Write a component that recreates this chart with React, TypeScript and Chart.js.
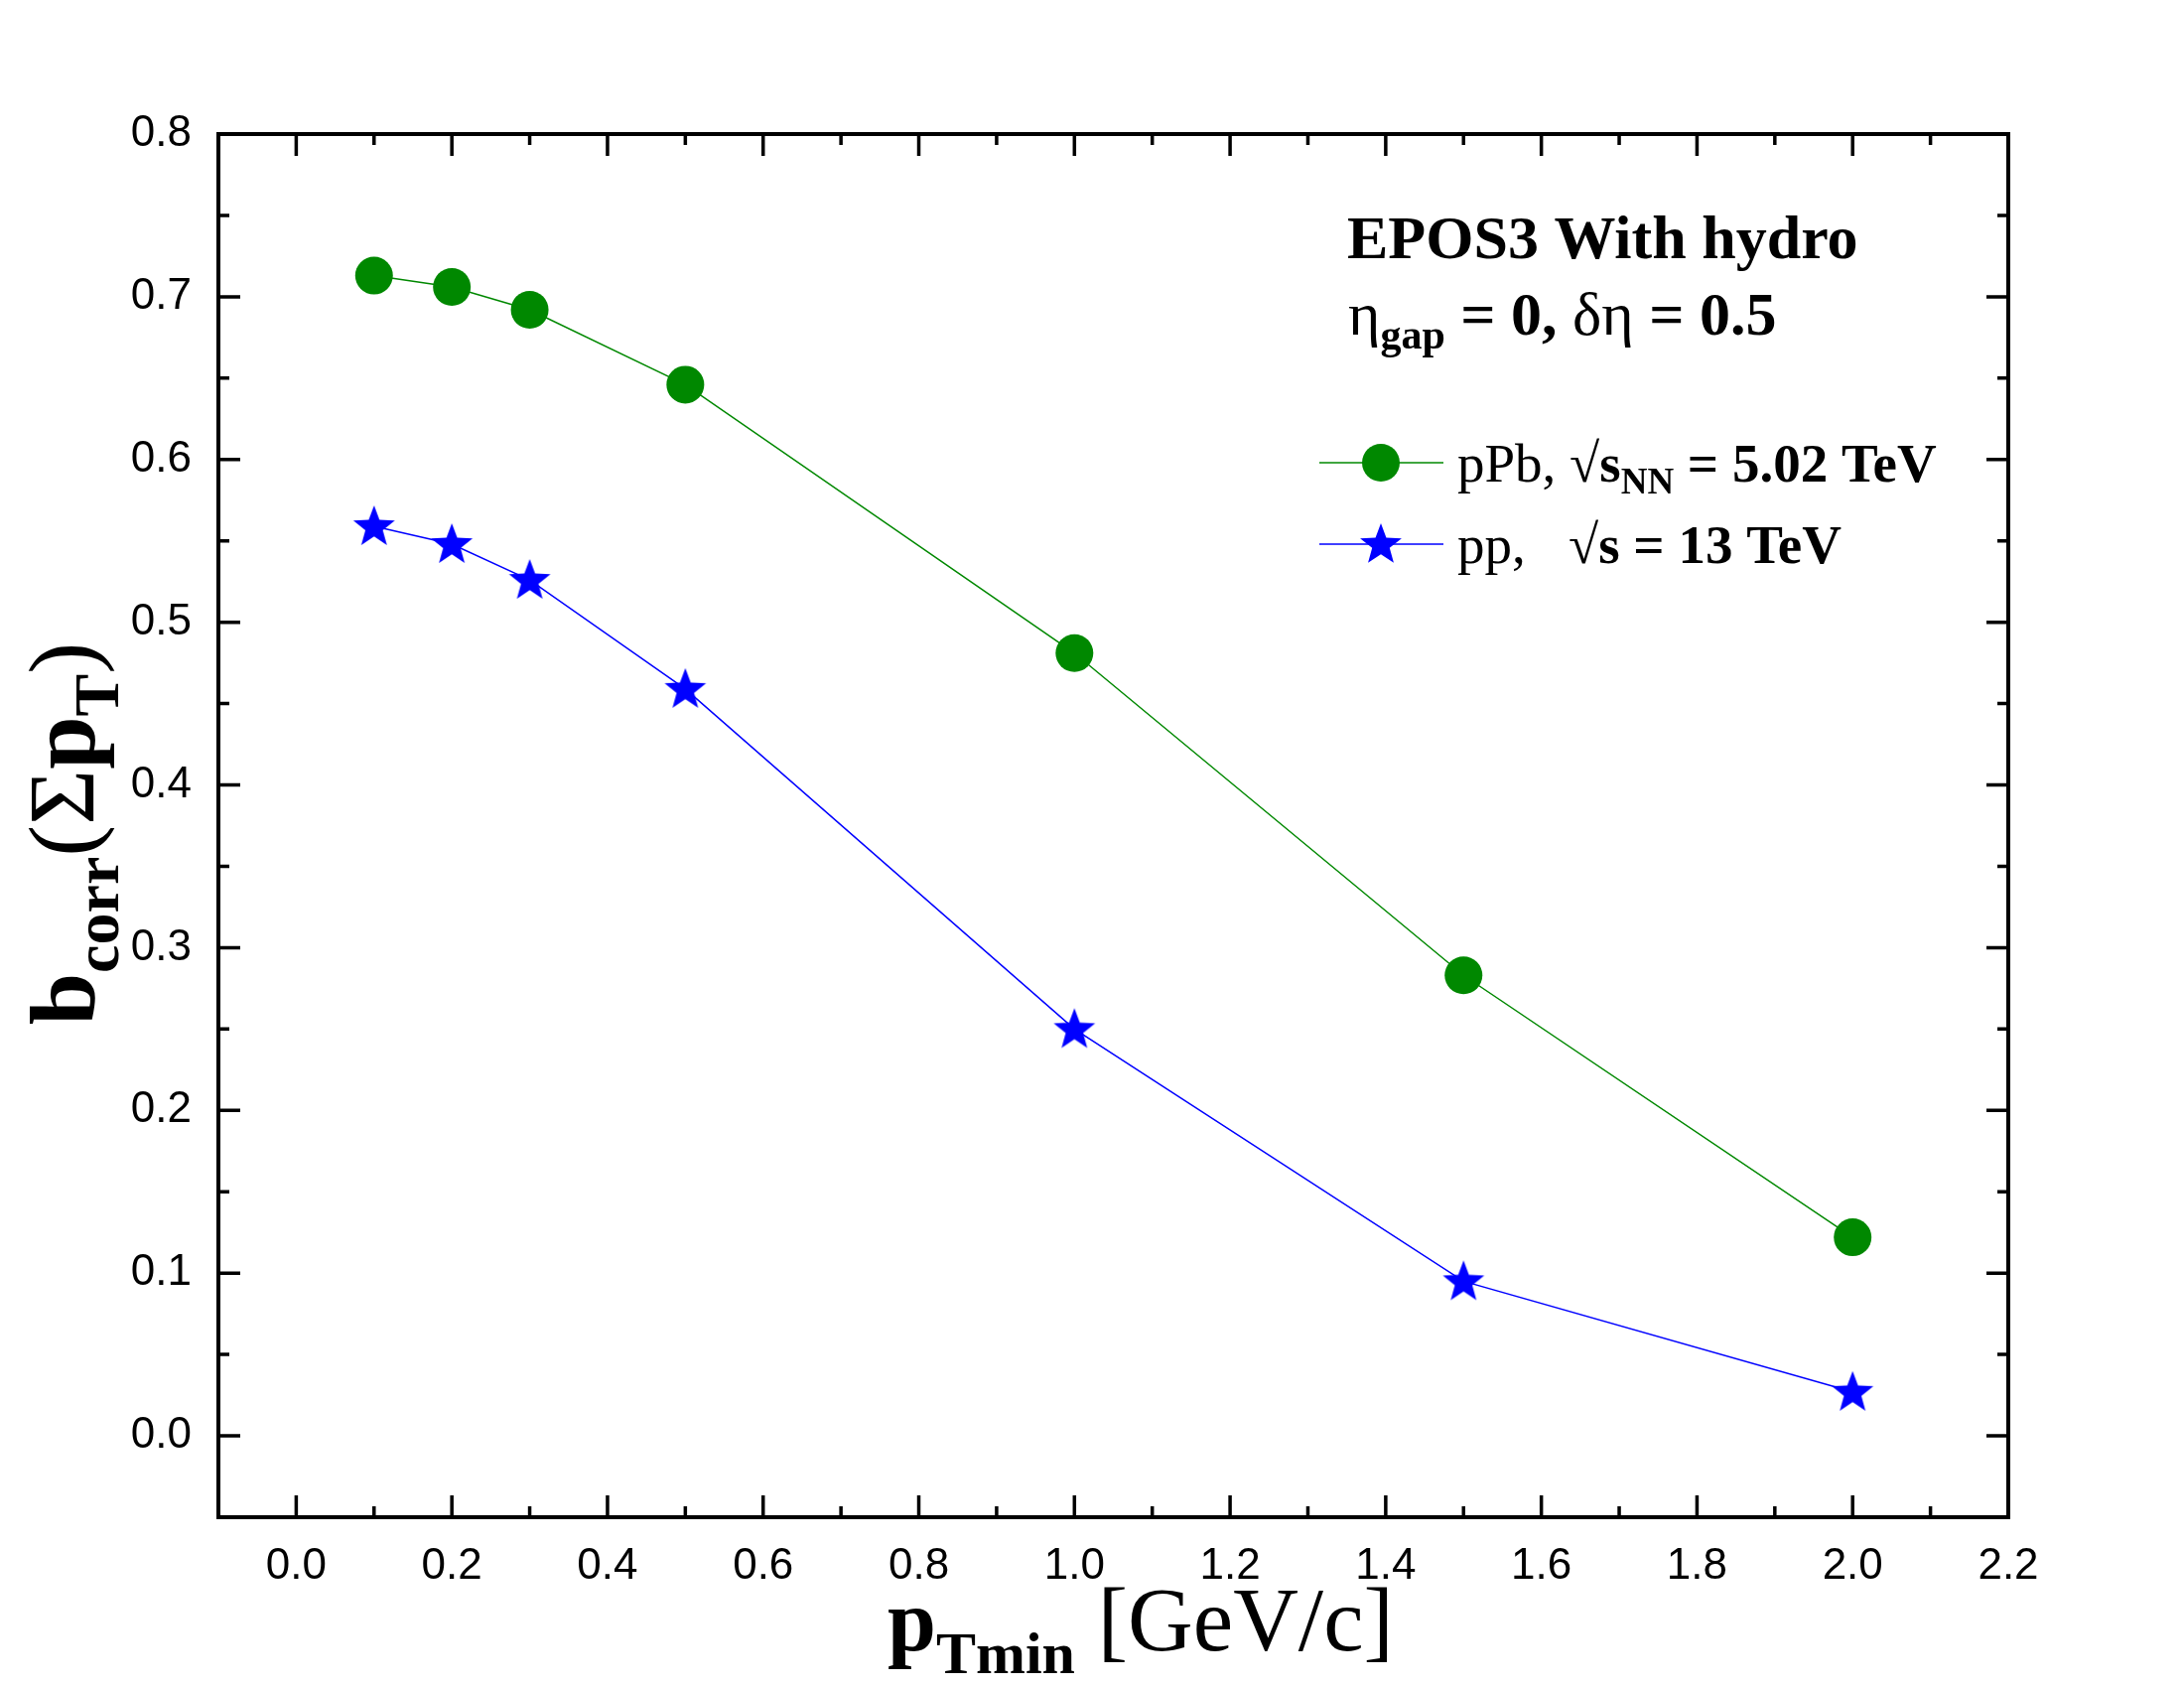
import { useEffect, useRef } from 'react';
import { Chart, registerables } from 'chart.js';

Chart.register(...registerables);

// data
const ptMin = [0.1, 0.2, 0.3, 0.5, 1.0, 1.5, 2.0];
const pPbValues = [0.713, 0.706, 0.692, 0.646, 0.481, 0.283, 0.122];
const ppValues = [0.559, 0.548, 0.526, 0.459, 0.25, 0.095, 0.027];

const xTickValues = [0, 0.2, 0.4, 0.6, 0.8, 1.0, 1.2, 1.4, 1.6, 1.8, 2.0, 2.2];
const xTickLabels = ['0.0', '0.2', '0.4', '0.6', '0.8', '1.0', '1.2', '1.4', '1.6', '1.8', '2.0', '2.2'];
const yTickValues = [0, 0.1, 0.2, 0.3, 0.4, 0.5, 0.6, 0.7, 0.8];
const yTickLabels = ['0.0', '0.1', '0.2', '0.3', '0.4', '0.5', '0.6', '0.7', '0.8'];

const GREEN = '#008800';
const BLUE = '#0000ff';
const SERIF = "'Liberation Serif', 'Times New Roman', serif";
const SANS = "'Liberation Sans', Arial, sans-serif";
const bold = (px: number) => `bold ${px}px ${SERIF}`;
const reg = (px: number) => `${px}px ${SERIF}`;

type Run = { t: string; f: string; dy?: number };

function runsWidth(ctx: CanvasRenderingContext2D, runs: Run[]) {
	let w = 0;
	for (const r of runs) {
		ctx.font = r.f;
		w += ctx.measureText(r.t).width;
	}
	return w;
}

function drawRuns(ctx: CanvasRenderingContext2D, x: number, y: number, runs: Run[]) {
	let cx = x;
	for (const r of runs) {
		ctx.font = r.f;
		ctx.fillText(r.t, cx, y + (r.dy || 0));
		cx += ctx.measureText(r.t).width;
	}
	return cx;
}

function starPath(ctx: CanvasRenderingContext2D, cx: number, cy: number, R: number) {
	const r = R * 0.42;
	ctx.beginPath();
	for (let i = 0; i < 10; i++) {
		const a = -Math.PI / 2 + (i * Math.PI) / 5;
		const rad = i % 2 === 0 ? R : r;
		const px = cx + rad * Math.cos(a);
		const py = cy + rad * Math.sin(a);
		if (i === 0) ctx.moveTo(px, py);
		else ctx.lineTo(px, py);
	}
	ctx.closePath();
}

function makeStar(R: number, color: string) {
	const c = document.createElement('canvas');
	const s = Math.ceil(R * 2 + 4);
	c.width = s;
	c.height = s;
	const ctx = c.getContext('2d')!;
	ctx.fillStyle = color;
	starPath(ctx, s / 2, s / 2 + R * 0.05, R);
	ctx.fill();
	return c;
}

const mids = (a: number[]) => a.slice(0, -1).map((v, i) => (v + a[i + 1]) / 2);

const decorations = {
	id: 'decorations',
	afterDraw(chart: any) {
		const { ctx, chartArea, scales } = chart;
		const { left, right, top, bottom } = chartArea;
		const x = scales.x;
		const y = scales.y;
		ctx.save();

		// inward ticks on all four sides
		ctx.strokeStyle = '#000';
		ctx.lineWidth = 3.5;
		ctx.beginPath();
		const tickX = (v: number, len: number) => {
			const p = x.getPixelForValue(v);
			ctx.moveTo(p, bottom);
			ctx.lineTo(p, bottom - len);
			ctx.moveTo(p, top);
			ctx.lineTo(p, top + len);
		};
		const tickY = (v: number, len: number) => {
			const p = y.getPixelForValue(v);
			ctx.moveTo(left, p);
			ctx.lineTo(left + len, p);
			ctx.moveTo(right, p);
			ctx.lineTo(right - len, p);
		};
		xTickValues.forEach((v) => tickX(v, 22));
		mids(xTickValues).forEach((v) => tickX(v, 11));
		yTickValues.forEach((v) => tickY(v, 22));
		mids(yTickValues).forEach((v) => tickY(v, 11));
		ctx.stroke();

		// frame
		ctx.lineWidth = 4;
		ctx.strokeRect(left, top, right - left, bottom - top);

		ctx.fillStyle = '#000';
		ctx.textBaseline = 'alphabetic';
		ctx.textAlign = 'left';

		// x title
		drawRuns(ctx, 894, 1662, [
			{ t: 'p', f: bold(88) },
			{ t: 'Tmin', f: bold(60), dy: 23 },
			{ t: ' [GeV/c]', f: reg(91) },
		]);

		// y title
		const yRuns: Run[] = [
			{ t: 'b', f: bold(94) },
			{ t: 'corr', f: bold(64), dy: 24 },
			{ t: '(', f: reg(96) },
			{ t: 'Σ', f: reg(96) },
			{ t: 'p', f: bold(96) },
			{ t: 'T', f: bold(64), dy: 24 },
			{ t: ')', f: reg(96) },
		];
		const yw = runsWidth(ctx, yRuns);
		ctx.save();
		ctx.translate(95, (top + bottom) / 2 + 8 + yw / 2);
		ctx.rotate(-Math.PI / 2);
		drawRuns(ctx, 0, 0, yRuns);
		ctx.restore();

		// annotation
		drawRuns(ctx, 1357, 260, [{ t: 'EPOS3 With hydro', f: bold(62) }]);
		drawRuns(ctx, 1358, 337, [
			{ t: 'η', f: reg(62) },
			{ t: 'gap', f: bold(42), dy: 14 },
			{ t: ' = 0, ', f: bold(62) },
			{ t: 'δη', f: reg(62) },
			{ t: ' = 0.5', f: bold(62) },
		]);

		// legend
		ctx.lineWidth = 1.5;
		ctx.strokeStyle = GREEN;
		ctx.beginPath();
		ctx.moveTo(1329, 466);
		ctx.lineTo(1454, 466);
		ctx.stroke();
		ctx.fillStyle = GREEN;
		ctx.beginPath();
		ctx.arc(1391, 466, 19, 0, Math.PI * 2);
		ctx.fill();

		ctx.strokeStyle = BLUE;
		ctx.beginPath();
		ctx.moveTo(1329, 548);
		ctx.lineTo(1454, 548);
		ctx.stroke();
		ctx.fillStyle = BLUE;
		starPath(ctx, 1391, 549, 22);
		ctx.fill();

		ctx.fillStyle = '#000';
		drawRuns(ctx, 1468, 485, [
			{ t: 'pPb, ', f: reg(55) },
			{ t: '√', f: reg(55) },
			{ t: 's', f: bold(55) },
			{ t: 'NN', f: bold(37), dy: 12 },
			{ t: ' = 5.02 TeV', f: bold(55) },
		]);
		drawRuns(ctx, 1468, 567, [{ t: 'pp,', f: reg(55) }]);
		drawRuns(ctx, 1580, 567, [
			{ t: '√', f: reg(55) },
			{ t: 's = 13 TeV', f: bold(55) },
		]);

		ctx.restore();
	},
};

export default function App() {
	const chartRef = useRef<HTMLCanvasElement>(null);

	useEffect(() => {
		if (!chartRef.current) return;
		const star = makeStar(22, BLUE);
		const chart = new Chart(chartRef.current, {
			type: 'scatter',
			data: {
				datasets: [
					{
						label: 'pPb',
						data: ptMin.map((v, i) => ({ x: v, y: pPbValues[i] })),
						showLine: true,
						borderColor: GREEN,
						backgroundColor: GREEN,
						borderWidth: 1.5,
						pointStyle: 'circle',
						pointRadius: 19,
						pointBorderWidth: 0,
						tension: 0,
					},
					{
						label: 'pp',
						data: ptMin.map((v, i) => ({ x: v, y: ppValues[i] })),
						showLine: true,
						borderColor: BLUE,
						backgroundColor: BLUE,
						borderWidth: 1.5,
						pointStyle: star,
						pointRadius: 22,
						tension: 0,
					},
				],
			},
			options: {
				animation: false,
				responsive: false,
				devicePixelRatio: 1,
				layout: { padding: { top: 135, right: 177, left: 0, bottom: 0 } },
				plugins: { legend: { display: false }, tooltip: { enabled: false } },
				scales: {
					x: {
						type: 'linear',
						min: -0.1,
						max: 2.2,
						grid: { display: false, drawTicks: false },
						border: { display: false },
						afterFit: (s: any) => {
							s.height = 172;
						},
						afterBuildTicks: (s: any) => {
							s.ticks = xTickValues.map((v) => ({ value: v }));
						},
						ticks: {
							autoSkip: false,
							maxRotation: 0,
							padding: 23,
							color: '#000',
							font: { family: SANS, size: 44 },
							callback: (_v: any, i: number) => xTickLabels[i],
						},
					},
					y: {
						type: 'linear',
						min: -0.05,
						max: 0.8,
						grid: { display: false, drawTicks: false },
						border: { display: false },
						afterFit: (s: any) => {
							s.width = 220;
						},
						afterBuildTicks: (s: any) => {
							s.ticks = yTickValues.map((v) => ({ value: v }));
						},
						ticks: {
							autoSkip: false,
							padding: 27,
							color: '#000',
							font: { family: SANS, size: 44 },
							callback: (_v: any, i: number) => yTickLabels[i],
						},
					},
				},
			},
			plugins: [decorations],
		});
		return () => chart.destroy();
	}, []);

	return (
		<div style={{ position: 'absolute', left: 0, top: 0, width: 2200, height: 1700, background: '#fff' }}>
			<canvas ref={chartRef} width={2200} height={1700} style={{ display: 'block' }}></canvas>
		</div>
	);
}
